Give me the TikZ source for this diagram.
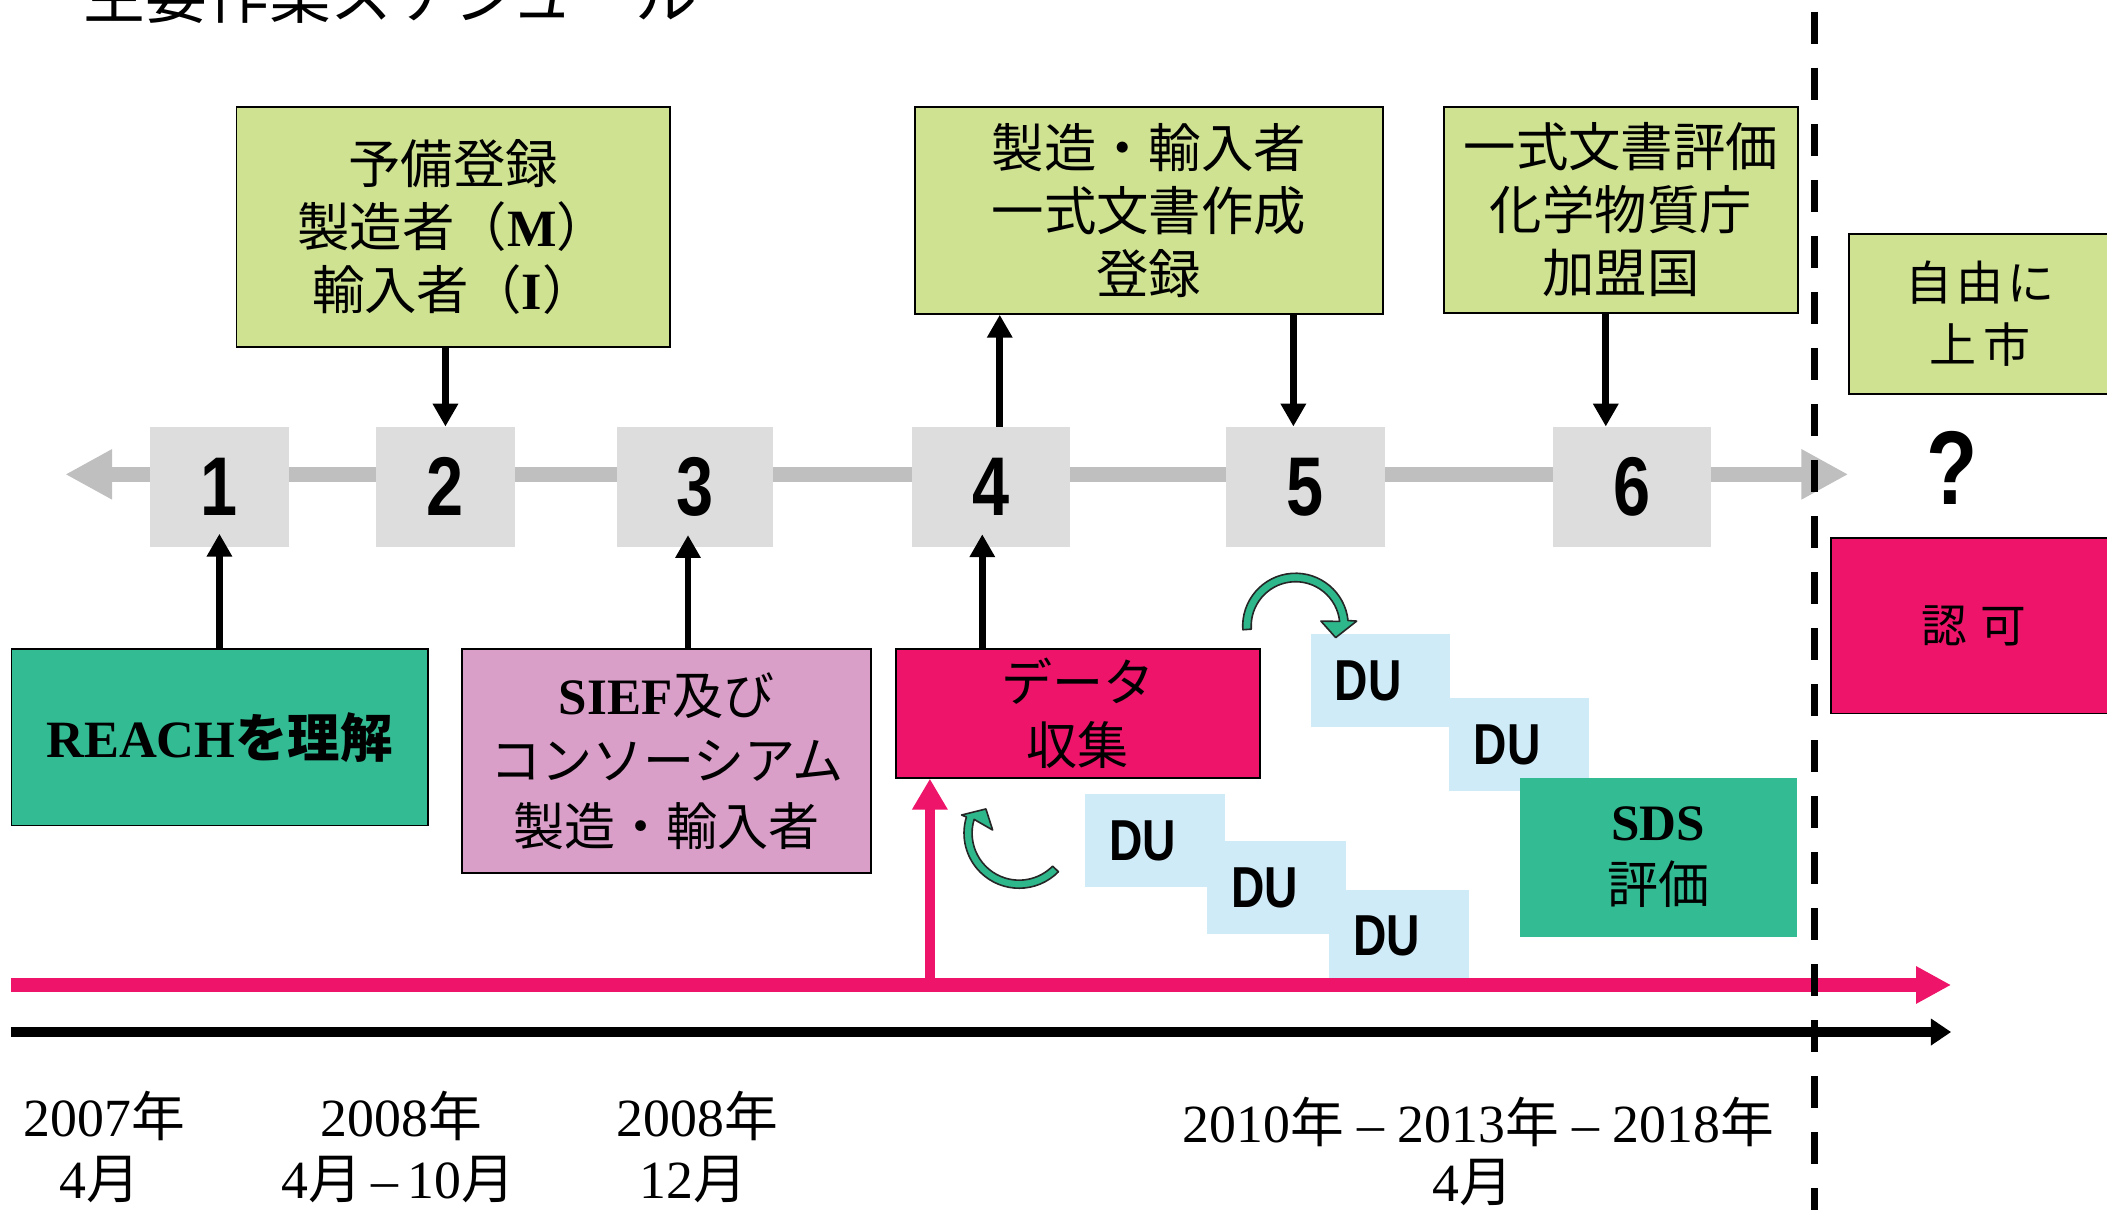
\documentclass[tikz,border=0pt]{standalone}
\usepackage{fontspec}
\setmainfont{Noto Sans CJK JP}
\newfontfamily\lat{Liberation Serif}
\newfontfamily\numf[FakeStretch=0.8]{Liberation Sans}
\usetikzlibrary{arrows.meta,calc}
\definecolor{lgreen}{HTML}{CFE291}
\definecolor{lgray}{HTML}{DDDDDD}
\definecolor{mgray}{HTML}{BFBFBF}
\definecolor{teal1}{HTML}{33BB93}
\definecolor{lilac}{HTML}{DA9FC8}
\definecolor{mag}{HTML}{ED1469}
\definecolor{lblue}{HTML}{CFEBF8}
\definecolor{cvgreen}{HTML}{2FB78C}
\begin{document}
\begin{tikzpicture}[x=1pt,y=-1pt,
  bx/.style={draw=black, line width=1.3pt, inner sep=0pt, align=center, font=\fontsize{39}{47}\selectfont},
  gbox/.style={bx, fill=lgreen},
  numbox/.style={fill=lgray, inner sep=0pt, minimum height=89.4pt, font=\numf\bfseries\fontsize{62}{62}\selectfont},
  dubox/.style={fill=lblue, inner sep=0pt, minimum width=104pt, minimum height=69pt, font=\numf\bfseries\fontsize{43}{43}\selectfont},
  blk/.style={line width=5pt, -{Triangle[length=17pt,width=18pt]}},
  cv/.style={fill=cvgreen, draw=black!85, line width=1.2pt, line join=round},
  datelbl/.style={anchor=base, inner sep=0pt, font=\fontsize{40}{40}\selectfont},
]
\useasboundingbox (0,0) rectangle (1568,900);

% title (mostly cut off at the top, as in the reference)
\node[anchor=base west, inner sep=0pt, font=\fontsize{46}{46}\selectfont] (title) at (62,14) {主要作業スケジュール};

% gray axis
\coordinate (gL) at (48.5,353);
\coordinate (gR) at (1375.5,353);
\draw[mgray, line width=11pt, {Triangle[length=35pt,width=35pt]}-{Triangle[length=35pt,width=35pt]}] (gL) -- (gR);

% number boxes
\node[numbox, minimum width=103.4pt] (n1) at (163.3,362.3) {1};
\node[numbox, minimum width=103pt]   (n2) at (331.5,362.3) {2};
\node[numbox, minimum width=116pt]   (n3) at (517,362.3) {3};
\node[numbox, minimum width=117pt]   (n4) at (737.5,362.3) {4};
\node[numbox, minimum width=119pt]   (n5) at (971.5,362.3) {5};
\node[numbox, minimum width=117pt]   (n6) at (1214.5,362.3) {6};

% top boxes
\node[gbox, minimum width=322.6pt, minimum height=178.6pt] (A) at (337.3,168.7)
  {予備登録\\製造者（{\lat\bfseries M}）\\輸入者（{\lat\bfseries I}）};
\node[gbox, minimum width=348pt, minimum height=154pt] (B) at (855,156.6)
  {製造・輸入者\\一式文書作成\\登録};
\node[gbox, minimum width=263.4pt, minimum height=153.6pt] (C) at (1206.3,156.2)
  {一式文書評価\\化学物質庁\\加盟国};
\node[gbox, minimum width=195pt, minimum height=119pt, font=\fontsize{35}{46}\selectfont] (F) at (1473.5,233.5)
  {自\hspace{3pt}由\hspace{3pt}に\\上\hspace{5pt}市};

% lower boxes
\node[bx, fill=teal1, minimum width=309.7pt, minimum height=131.4pt] (R) at (163.4,548.7)
  {{\lat\bfseries REACH}{\bfseries を理解}};
\node[bx, fill=lilac, minimum width=304.5pt, minimum height=166.8pt, font=\fontsize{38}{49}\selectfont] (S) at (496.2,566.4)
  {{\lat\bfseries SIEF}及び\\コンソーシアム\\製造・輸入者};
\node[bx, fill=mag, minimum width=270.8pt, minimum height=95.7pt, font=\fontsize{38}{47}\selectfont] (D) at (802,531)
  {データ\\収集};
\node[bx, fill=mag, minimum width=212.4pt, minimum height=130.5pt, font=\fontsize{34}{34}\selectfont] (K) at (1468.8,465.75)
  {認\hspace{10pt}可};

% DU boxes
\node[dubox] (u1) at (1027.3,506.5) {DU\hspace{18pt}\mbox{}};
\node[dubox] (u2) at (1130.5,554)   {DU\hspace{18pt}\mbox{}};
\node[dubox] (u3) at (859.5,625.5)  {DU\hspace{18pt}\mbox{}};
\node[dubox] (u4) at (950,660.5)    {DU\hspace{18pt}\mbox{}};
\node[dubox] (u5) at (1041,696.5)   {DU\hspace{18pt}\mbox{}};

% SDS box
\node[fill=teal1, inner sep=0pt, minimum width=206pt, minimum height=118pt, align=center, font=\fontsize{38}{47}\selectfont] (T) at (1234,638)
  {{\lat\bfseries SDS}\\評価};

% curved arrows
\filldraw[cv] (964.1,465.9) ++(176:39.3) arc[start angle=176, end angle=354, radius=39.3]
  -- (1009.6,462.2) -- (994,474.5) -- (983,462.2)
  -- ($(964.1,465.9)+(354:33)$) arc[start angle=354, end angle=176, radius=33] -- cycle;
\filldraw[cv] (758.4,620) ++(44.5:41) arc[start angle=44.5, end angle=197, radius=41]
  -- (715.6,606.5) -- (733.7,602) -- (738.7,617.7)
  -- ($(758.4,620)+(197:35)$) arc[start angle=197, end angle=44.5, radius=35] -- cycle;

% black connectors
\draw[blk] (n1.south |- R.north) -- ([yshift=10pt]n1.south);
\draw[blk] (n2.north |- A.south) -- (n2.north);
\draw[blk] ([xshift=-5pt]n3.south |- S.north) -- ([xshift=-5pt,yshift=9pt]n3.south);
\draw[blk] ([xshift=6.5pt]n4.north) -- ([xshift=6.5pt]n4.north |- B.south);
\draw[blk] ([xshift=-6.5pt]n4.south |- D.north) -- ([xshift=-6.5pt,yshift=9.6pt]n4.south);
\draw[blk] ([xshift=-9pt]n5.north |- B.south) -- ([xshift=-9pt]n5.north);
\draw[blk] ([xshift=-19.5pt]n6.north |- C.south) -- ([xshift=-19.5pt]n6.north);

% timelines
\coordinate (mL) at (8,733);
\coordinate (mR) at (1452,733);
\coordinate (mJ) at (692,733);
\draw[mag, line width=10pt, -{Triangle[length=26pt,width=26pt]}] (mL) -- (mR);
\draw[mag, line width=7pt, -{Triangle[length=23pt,width=25pt]}] (mJ) -- (mJ |- D.south);
\coordinate (kL) at (8,768);
\coordinate (kR) at (1452,768);
\draw[black, line width=7.5pt, -{Triangle[length=15pt,width=19pt]}] (kL) -- (kR);

% dashed separator
\coordinate (dT) at (1350,8.7);
\coordinate (dB) at (1350,912);
\draw[black, line width=5.2pt, dash pattern=on 23.7pt off 18pt] (dT) -- (dB);

% question mark
\node[inner sep=0pt, font=\numf\bfseries\fontsize{78}{78}\selectfont] (q) at (1453,348.5) {?};

% dates
\node[datelbl] (d1a) at (77.5,846) {{\lat 2007}年};
\node[datelbl] (d1b) at (74,891.6) {{\lat 4}月};
\node[datelbl] (d2a) at (298.6,846) {{\lat 2008}年};
\node[datelbl] (d2b) at (296.5,891.6) {{\lat 4}月{\lat\,–\,10}月};
\node[datelbl] (d3a) at (519,846) {{\lat 2008}年};
\node[datelbl] (d3b) at (516,891.6) {{\lat 12}月};
\node[datelbl] (d4a) at (1100,850.5) {{\lat 2010}年{\lat{} – 2013}年{\lat{} – 2018}年};
\node[datelbl] (d4b) at (1096,894) {{\lat 4}月};
\end{tikzpicture}
\end{document}
